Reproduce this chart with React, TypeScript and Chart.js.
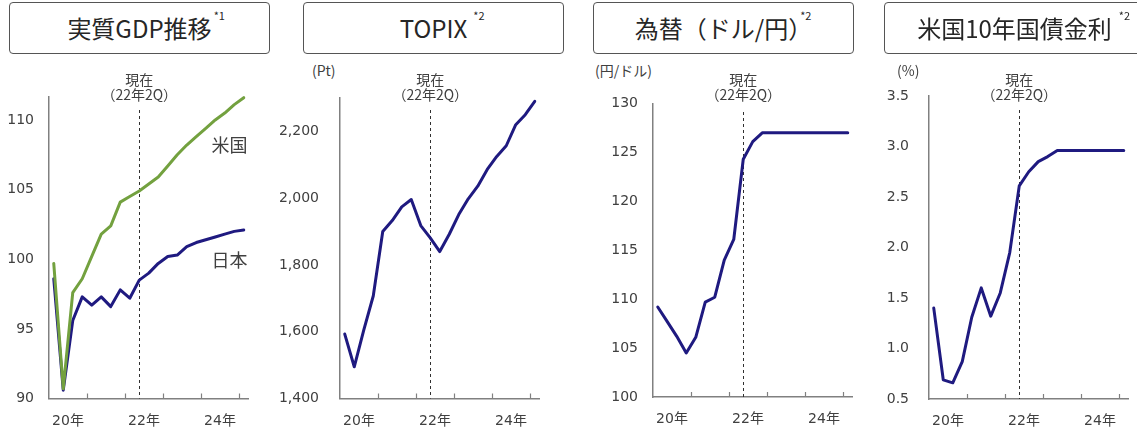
import React, { useEffect, useRef } from 'react';
import { Chart, registerables } from 'chart.js';

Chart.register(...registerables);

// Quarterly periods shown on every panel (actuals + outlook)
const quarters = [
  '20Q1', '20Q2', '20Q3', '20Q4',
  '21Q1', '21Q2', '21Q3', '21Q4',
  '22Q1', '22Q2', '22Q3', '22Q4',
  '23Q1', '23Q2', '23Q3', '23Q4',
  '24Q1', '24Q2', '24Q3', '24Q4',
  '25Q1',
];
const yearLabels = ['20年', '21年', '22年', '23年', '24年'];
const currentQuarter = '22Q2';
const currentLabel = ['現在', '（22年2Q）'];

// Real GDP index
const gdpUS = [99.7, 90.7, 97.6, 98.6, 100.2, 101.8, 102.4, 104.1, 104.5, 104.9, 105.4, 105.9, 106.7, 107.5, 108.2, 108.8, 109.4, 110.0, 110.5, 111.1, 111.6];
const gdpJapan = [98.6, 90.6, 95.6, 97.3, 96.7, 97.3, 96.6, 97.8, 97.2, 98.5, 99.0, 99.7, 100.2, 100.3, 100.9, 101.2, 101.4, 101.6, 101.8, 102.0, 102.1];

// TOPIX (Pt)
const topix = [1593, 1495, 1605, 1707, 1900, 1933, 1974, 1996, 1918, 1881, 1840, 1892, 1951, 1998, 2036, 2086, 2125, 2157, 2220, 2250, 2290];

// USD/JPY (円/ドル)
const usdJpy = [109.2, 107.7, 106.2, 104.5, 106.1, 109.7, 110.2, 114.0, 116.1, 124.3, 126.1, 127.0, 127.0, 127.0, 127.0, 127.0, 127.0, 127.0, 127.0, 127.0, 127.0];

// US 10-year Treasury yield (%)
const us10y = [1.40, 0.69, 0.66, 0.87, 1.31, 1.60, 1.32, 1.55, 1.95, 2.61, 2.75, 2.85, 2.90, 2.96, 2.96, 2.96, 2.96, 2.96, 2.96, 2.96, 2.96];

// Axis ticks
const gdpTicks = [90, 95, 100, 105, 110];
const topixTicks = [1400, 1600, 1800, 2000, 2200];
const fxTicks = [100, 105, 110, 115, 120, 125, 130];
const yieldTicks = [0.5, 1.0, 1.5, 2.0, 2.5, 3.0, 3.5];

const NAVY = '#1f1a80';
const GREEN = '#73a13f';
const AXIS = '#808080';
const TEXT = '#404040';
const FONT_JP = "'Noto Sans CJK JP', 'Noto Sans', sans-serif";
const FONT_NUM = "'DejaVu Sans', 'Noto Sans CJK JP', sans-serif";

const CANVAS_TOP = 60;
const CANVAS_H = 372;
const Y_W = 70;
const PLOT_W = 199.5;
const RIGHT_PAD = 8.5;

type Series = { name: string; values: number[]; color: string; tag?: { text: string; at: number } };

interface PanelSpec {
  title: string;
  note: string;
  noteGap: number;
  unit?: string;
  unitLeft?: number;
  boxLeft: number;
  axisX: number;
  plotTop: number;
  plotBottom: number;
  dashTop: number;
  yMin: number;
  yMax: number;
  yTicks: number[];
  format: (v: number) => string;
  labelGap: number;
  series: Series[];
}

const panels: PanelSpec[] = [
  {
    title: '実質GDP推移', note: '*1', noteGap: 2,
    boxLeft: 9, axisX: 49, plotTop: 97, plotBottom: 398.5, dashTop: 110,
    yMin: 90, yMax: 111.65, yTicks: gdpTicks, format: (v) => String(v), labelGap: 15,
    series: [
      { name: '米国', values: gdpUS, color: GREEN, tag: { text: '米国', at: 108.2 } },
      { name: '日本', values: gdpJapan, color: NAVY, tag: { text: '日本', at: 99.9 } },
    ],
  },
  {
    title: 'TOPIX', note: '*2', noteGap: 6, unit: '(Pt)', unitLeft: 312,
    boxLeft: 303, axisX: 340, plotTop: 98, plotBottom: 398.5, dashTop: 110,
    yMin: 1400, yMax: 2300, yTicks: topixTicks, format: (v) => v.toLocaleString('en-US'), labelGap: 21,
    series: [{ name: 'TOPIX', values: topix, color: NAVY }],
  },
  {
    title: '為替（ドル/円）', note: '*2', noteGap: -12, unit: '(円/ドル)', unitLeft: 595,
    boxLeft: 593, axisX: 653, plotTop: 103.5, plotBottom: 397, dashTop: 112,
    yMin: 100, yMax: 130, yTicks: fxTicks, format: (v) => String(v), labelGap: 15,
    series: [{ name: 'ドル円', values: usdJpy, color: NAVY }],
  },
  {
    title: '米国10年国債金利', note: '*2', noteGap: 7, unit: '(%)', unitLeft: 897,
    boxLeft: 884, axisX: 929, plotTop: 96, plotBottom: 399, dashTop: 110,
    yMin: 0.5, yMax: 3.5, yTicks: yieldTicks, format: (v) => v.toFixed(1), labelGap: 20,
    series: [{ name: '米国10年債', values: us10y, color: NAVY }],
  },
];

function ChartPanel({ spec }: { spec: PanelSpec }) {
  const ref = useRef<HTMLCanvasElement>(null);
  const width = Y_W + PLOT_W + RIGHT_PAD;

  useEffect(() => {
    const canvas = ref.current;
    if (!canvas) return;
    const nowIndex = quarters.indexOf(currentQuarter);

    const overlay = {
      id: 'overlay',
      beforeDatasetsDraw(chart: any) {
        const { ctx, chartArea: a, scales } = chart;
        const nx = scales.x.getPixelForValue(nowIndex + 0.5);
        ctx.save();
        ctx.strokeStyle = '#303030';
        ctx.lineWidth = 1;
        ctx.setLineDash([3, 3]);
        ctx.beginPath();
        ctx.moveTo(Math.round(nx) + 0.5, spec.dashTop - CANVAS_TOP);
        ctx.lineTo(Math.round(nx) + 0.5, a.bottom);
        ctx.stroke();
        ctx.restore();
      },
      afterDatasetsDraw(chart: any) {
        const { ctx, chartArea: a, scales } = chart;
        const xs = scales.x;
        const ys = scales.y;
        ctx.save();
        // year boundary tick marks, drawn inward from the axis
        ctx.strokeStyle = AXIS;
        ctx.lineWidth = 1.2;
        for (let k = 1; k <= yearLabels.length; k++) {
          const px = Math.round(xs.getPixelForValue(k * 4)) + 0.5;
          ctx.beginPath();
          ctx.moveTo(px, a.bottom);
          ctx.lineTo(px, a.bottom - 5);
          ctx.stroke();
        }
        // "current" annotation above the dashed line
        const nx = xs.getPixelForValue(nowIndex + 0.5);
        ctx.fillStyle = TEXT;
        ctx.font = `14px ${FONT_JP}`;
        ctx.textAlign = 'center';
        ctx.textBaseline = 'middle';
        ctx.fillText(currentLabel[0], nx, 80 - CANVAS_TOP);
        ctx.fillText(currentLabel[1], nx, 95 - CANVAS_TOP);
        // series name tags
        ctx.font = `18px ${FONT_JP}`;
        ctx.textAlign = 'right';
        spec.series.forEach((s) => {
          if (!s.tag) return;
          ctx.fillText(s.tag.text, a.right - 1, ys.getPixelForValue(s.tag.at));
        });
        ctx.restore();
      },
    };

    const chart = new Chart(canvas, {
      type: 'line',
      data: {
        datasets: spec.series.map((s) => ({
          label: s.name,
          data: s.values.map((v, i) => ({ x: i + 0.5, y: v })),
          borderColor: s.color,
          backgroundColor: s.color,
          borderWidth: 3,
          pointRadius: 0,
          tension: 0,
          fill: false,
          clip: 4,
          borderJoinStyle: 'round' as const,
          borderCapStyle: 'round' as const,
        })),
      },
      options: {
        animation: false,
        responsive: false,
        maintainAspectRatio: false,
        devicePixelRatio: 1,
        layout: { padding: { top: spec.plotTop - CANVAS_TOP, right: RIGHT_PAD, left: 0, bottom: 0 } },
        plugins: {
          legend: { display: false },
          tooltip: { enabled: false },
          title: { display: false },
        },
        scales: {
          x: {
            type: 'linear',
            min: 0,
            max: quarters.length,
            grid: { display: false, drawTicks: false, tickLength: 0 },
            border: { display: true, color: AXIS, width: 1.5 },
            afterBuildTicks: (s: any) => {
              s.ticks = yearLabels.map((_, k) => ({ value: k * 4 + 2 }));
            },
            afterFit: (s: any) => {
              s.height = CANVAS_TOP + CANVAS_H - spec.plotBottom;
            },
            ticks: {
              autoSkip: false,
              maxRotation: 0,
              padding: 14,
              color: TEXT,
              font: { family: FONT_NUM, size: 14 },
              callback: (v: any) => {
                const k = Math.round((Number(v) - 2) / 4);
                return k % 2 === 0 ? yearLabels[k] : '';
              },
            },
          },
          y: {
            type: 'linear',
            min: spec.yMin,
            max: spec.yMax,
            grid: { display: false, drawTicks: false, tickLength: 0 },
            border: { display: true, color: AXIS, width: 1.5 },
            afterBuildTicks: (s: any) => {
              s.ticks = spec.yTicks.map((v) => ({ value: v }));
            },
            afterFit: (s: any) => {
              s.width = Y_W;
            },
            ticks: {
              padding: spec.labelGap,
              color: TEXT,
              font: { family: FONT_NUM, size: 14 },
              callback: (v: any) => spec.format(Number(v)),
            },
          },
        },
      },
      plugins: [overlay],
    } as any);

    return () => chart.destroy();
  }, [spec]);

  return (
    <>
      <div
        style={{
          position: 'absolute',
          left: spec.boxLeft,
          top: 2,
          width: 261,
          height: 52,
          boxSizing: 'border-box',
          border: '1px solid #555',
          borderRadius: 4,
          display: 'flex',
          alignItems: 'center',
          justifyContent: 'center',
          fontFamily: FONT_JP,
          color: '#262626',
          background: '#fff',
        }}
      >
        <span style={{ position: 'relative', fontSize: 24, lineHeight: '28px' }}>
          {spec.title}
          <span
            style={{
              position: 'absolute',
              left: `calc(100% + ${spec.noteGap}px)`,
              top: -6,
              fontSize: 11,
              lineHeight: '14px',
              whiteSpace: 'nowrap',
            }}
          >
            {spec.note}
          </span>
        </span>
      </div>
      {spec.unit && (
        <div
          style={{
            position: 'absolute',
            left: spec.unitLeft,
            top: 60,
            fontFamily: FONT_JP,
            fontSize: 14,
            lineHeight: '20px',
            color: TEXT,
            whiteSpace: 'nowrap',
          }}
        >
          {spec.unit}
        </div>
      )}
      <canvas
        ref={ref}
        width={width}
        height={CANVAS_H}
        style={{
          position: 'absolute',
          left: spec.axisX - Y_W,
          top: CANVAS_TOP,
          width,
          height: CANVAS_H,
        }}
      />
    </>
  );
}

export default function App() {
  return (
    <div
      style={{
        position: 'fixed',
        left: 0,
        top: 0,
        width: 1137,
        height: 432,
        overflow: 'hidden',
        background: '#ffffff',
      }}
    >
      {panels.map((p) => (
        <ChartPanel key={p.title} spec={p} />
      ))}
    </div>
  );
}
